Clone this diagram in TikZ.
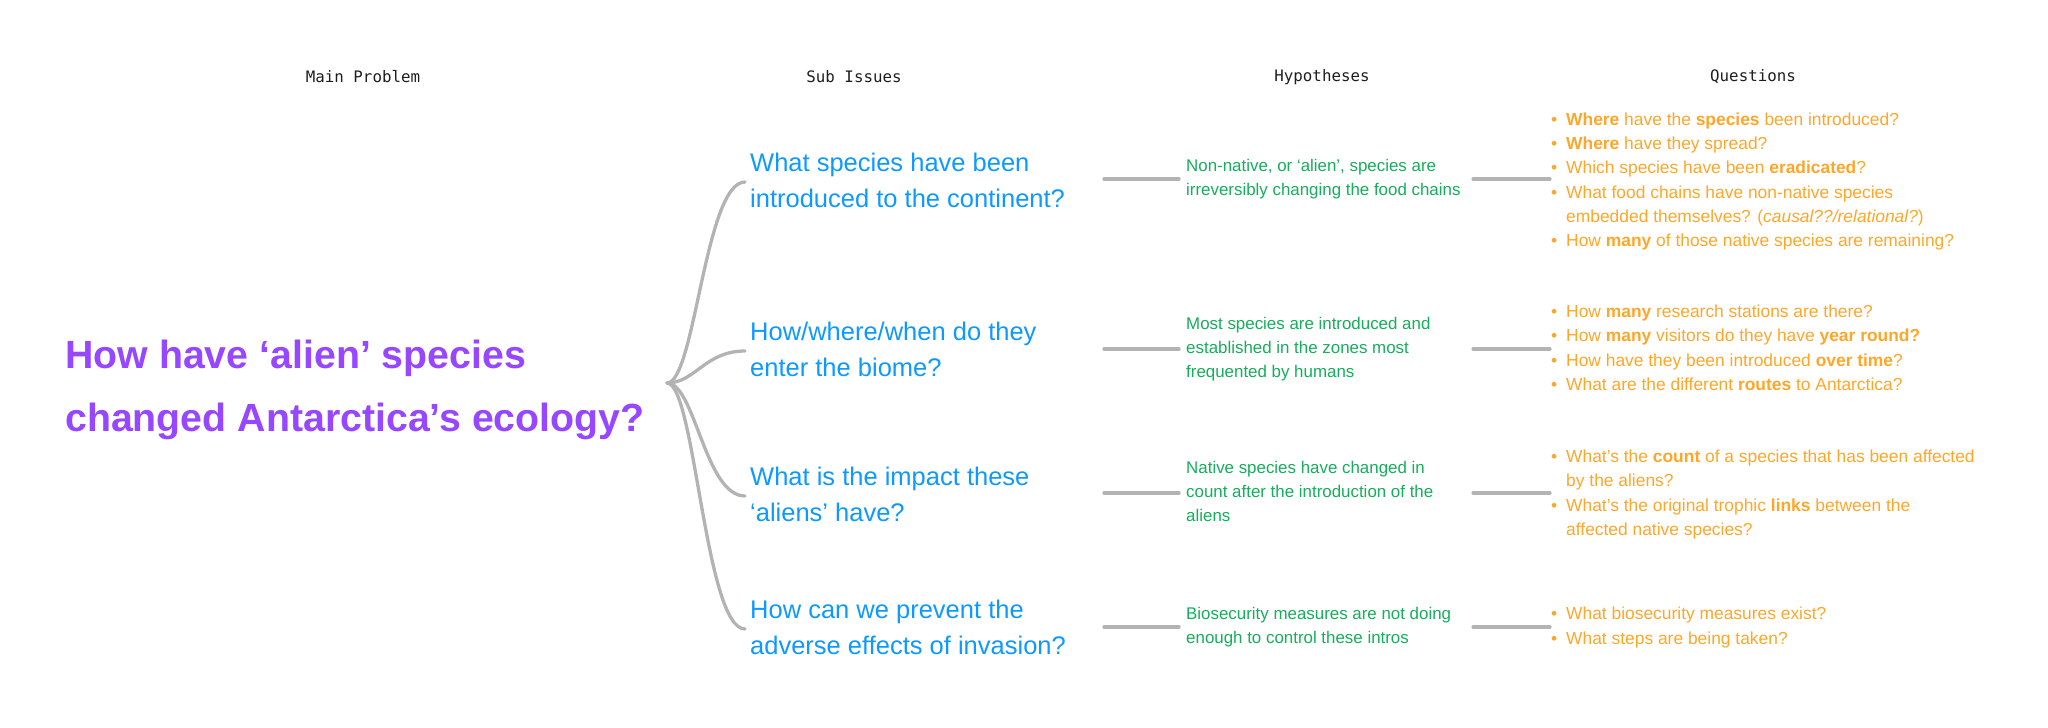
\documentclass[tikz,border=0pt]{standalone}
\usepackage{fontspec}
\setmainfont{Liberation Sans}
\newfontfamily\headfont{DejaVu Sans Mono}
\definecolor{probpurple}{HTML}{9747FF}
\definecolor{issueblue}{HTML}{0D99FF}
\definecolor{hypogreen}{HTML}{14AE5C}
\definecolor{quesorange}{HTML}{FFA629}
\definecolor{linkgray}{HTML}{B3B3B3}
\definecolor{headink}{HTML}{1E1E1E}
\newcommand{\qitem}{\llap{\textbullet\hspace{9pt}}}
\begin{document}
\begin{tikzpicture}[x=1pt,y=-1pt,
  header/.style={font=\headfont\fontsize{15.8}{20}\selectfont,text=headink,inner sep=0},
  problem/.style={font=\fontsize{39.3}{63}\selectfont\bfseries,text=probpurple,align=left,anchor=west,inner sep=0},
  issue/.style={font=\fontsize{25.5}{36.5}\selectfont,text=issueblue,align=left,anchor=west,inner sep=0},
  hypo/.style={font=\fontsize{16.9}{24}\selectfont,text=hypogreen,align=left,anchor=west,inner sep=0},
  ques/.style={font=\fontsize{17.4}{24.3}\selectfont,text=quesorange,align=left,anchor=west,inner sep=0},
  brace/.style={line width=3.3pt,linkgray,line cap=round},
  link/.style={line width=3.2pt,linkgray,line cap=round}]
  % column headers
  \foreach \x/\t/\n in {363/Main Problem/hmain,854/Sub Issues/hsub,1322/Hypotheses/hhyp,1753/Questions/hques}
    \node[header] (\n) at (\x,77) {\t};
  % main problem
  \node[problem] (prob) at (65,387) {\strut How have ‘alien’ species\\changed Antarctica’s ecology?\strut};
  \coordinate (j) at (667,383);
  % sub issues
  \node[issue] (s1) at (750,182) {\strut What species have been\\introduced to the continent?\strut};
  \node[issue] (s2) at (750,351) {\strut How/where/when do they\\enter the biome?\strut};
  \node[issue] (s3) at (750,496) {\strut What is the impact these\\‘aliens’ have?\strut};
  \node[issue] (s4) at (750,629) {\strut How can we prevent the\\adverse effects of invasion?\strut};
  % hypotheses
  \node[hypo] (h1) at (1186,179) {\strut Non-native, or ‘alien’, species are\\irreversibly changing the food chains\strut};
  \node[hypo] (h2) at (1186,349) {\strut Most species are introduced and\\established in the zones most\\frequented by humans\strut};
  \node[hypo] (h3) at (1186,493) {\strut Native species have changed in\\count after the introduction of the\\aliens\strut};
  \node[hypo] (h4) at (1186,627) {\strut Biosecurity measures are not doing\\enough to control these intros\strut};
  % questions
  \node[ques] (q1) at (1566,181) {\strut\qitem\textbf{Where} have the \textbf{species} been introduced?\\
    \qitem\textbf{Where} have they spread?\\
    \qitem Which species have been \textbf{eradicated}?\\
    \qitem What food chains have non-native species\\
    embedded themselves? (\textit{causal??/relational?})\\
    \qitem How \textbf{many} of those native species are remaining?\strut};
  \node[ques] (q2) at (1566,349) {\strut\qitem How \textbf{many} research stations are there?\\
    \qitem How \textbf{many} visitors do they have \textbf{year round?}\\
    \qitem How have they been introduced \textbf{over time}?\\
    \qitem What are the different \textbf{routes} to Antarctica?\strut};
  \node[ques] (q3) at (1566,494) {\strut\qitem What’s the \textbf{count} of a species that has been affected\\
    by the aliens?\\
    \qitem What’s the original trophic \textbf{links} between the\\
    affected native species?\strut};
  \node[ques] (q4) at (1566,627) {\strut\qitem What biosecurity measures exist?\\
    \qitem What steps are being taken?\strut};
  \coordinate (sr) at (1104,0);
  \coordinate (hr) at (1473,0);
  \foreach \i in {1,...,4} {
    \draw[brace] (j) .. controls +(28,0) and +(-40,0) .. ([xshift=-5pt]s\i.west);
    \draw[link] (sr |- h\i.west) -- ([xshift=-7pt]h\i.west);
    \draw[link] (hr |- h\i.east) -- ([xshift=-16pt]q\i.west |- h\i.east);
  }
  \path[use as bounding box] (0,0) rectangle (2048,728);
\end{tikzpicture}
\end{document}
